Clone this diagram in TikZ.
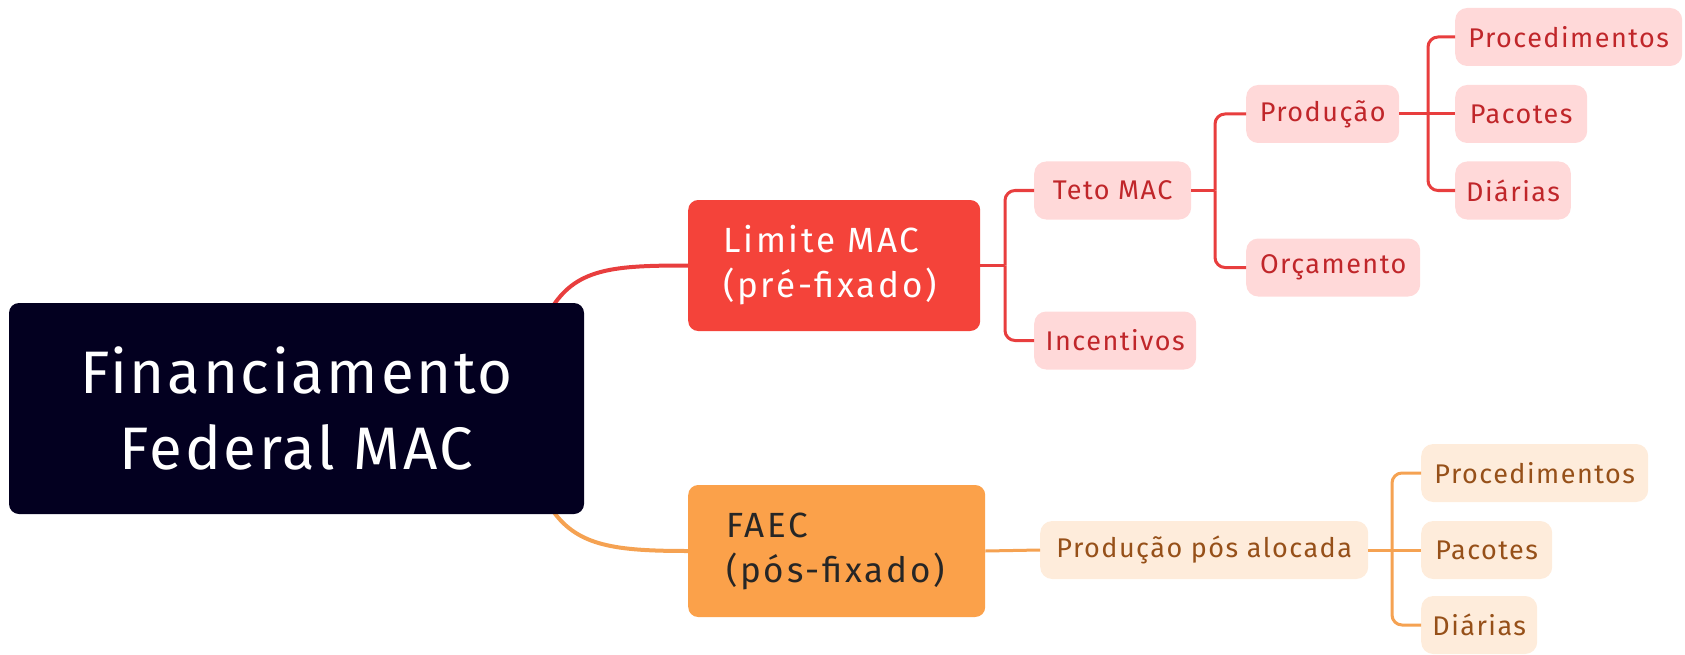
\documentclass[tikz,border=0pt]{standalone}
\usepackage{fontspec}
\setmainfont{Fira Sans}
\usetikzlibrary{positioning,calc}
\definecolor{RootNavy}{RGB}{3,0,32}
\definecolor{LimRed}{RGB}{244,67,58}
\definecolor{LimLine}{RGB}{232,62,62}
\definecolor{LimPink}{RGB}{255,217,217}
\definecolor{LimText}{RGB}{192,38,42}
\definecolor{FaecOrange}{RGB}{251,161,74}
\definecolor{FaecLine}{RGB}{245,162,82}
\definecolor{FaecCream}{RGB}{254,236,219}
\definecolor{FaecText}{RGB}{150,80,25}

\begin{document}
\begin{tikzpicture}[x=1pt, y=-1pt,
	leaf/.style={rounded corners=12pt, inner xsep=11pt, inner ysep=0pt, minimum width=#1, minimum height=58pt, anchor=west, font=\fontsize{27}{30}\selectfont\addfontfeature{LetterSpace=5.5}},
	redleaf/.style={leaf=#1, fill=LimPink, text=LimText},
	orgleaf/.style={leaf=#1, fill=FaecCream, text=FaecText},
	branch/.style={rounded corners=10pt, anchor=west, align=left, text width=222pt, minimum height=131pt, font=\fontsize{35}{45}\selectfont\addfontfeature{LetterSpace=8}},
	redlink/.style={draw=LimLine, line width=3pt, rounded corners=10pt},
	orglink/.style={draw=FaecLine, line width=3pt, rounded corners=10pt}]
	\useasboundingbox (0,0) rectangle (1685,655);
	\coordinate (rootup) at (553,306);
	\coordinate (rootdn) at (553,511);
	\node[branch, fill=LimRed, text=white, inner xsep=35pt] (lim) at (688,265.5) {Limite MAC\\(pré-fixado)};
	\node[branch, fill=FaecOrange, text=black!85, inner xsep=38pt, text width=221pt, minimum height=132pt] (faec) at (688,551) {FAEC\\(pós-fixado)};
	\draw[LimLine, line width=4pt] (rootup) .. controls (578,268) and (615,265.5) .. (lim.west);
	\draw[FaecLine, line width=4pt] (rootdn) .. controls (578,546) and (615,551) .. (faec.west);
	\node[fill=RootNavy, text=white, rounded corners=10pt, minimum width=575pt, minimum height=211pt, align=center, font=\fontsize{60}{76}\selectfont\addfontfeature{LetterSpace=4.4}] (root) at (296.5,408.5) {Financiamento\\Federal MAC};
	% ramo vermelho
	\node[redleaf=157pt] (teto) at (1034,190.5) {Teto MAC};
	\node[redleaf=162pt] (inc) at (1034,340.5) {Incentivos};
	\node[redleaf=153pt] (prod) at (1246,114) {Produção};
	\node[redleaf=174pt] (orc) at (1246,267.5) {Orçamento};
	\node[redleaf=227pt] (proc) at (1455,37) {Procedimentos};
	\node[redleaf=132pt] (pac) at (1455,114) {Pacotes};
	\node[redleaf=114pt] (dia) at (1455,190.5) {Diárias};
	\coordinate (jlim) at (1005,265.5);
	\coordinate (jteto) at (1215,190.5);
	\coordinate (jprod) at (1428,114);
	\draw[redlink] (lim.east) -- (jlim);
	\draw[redlink] (jlim) |- (teto.west);
	\draw[redlink] (jlim) |- (inc.west);
	\draw[redlink] (teto.east) -- (jteto);
	\draw[redlink] (jteto) |- (prod.west);
	\draw[redlink] (jteto) |- (orc.west);
	\draw[redlink] (prod.east) -- (jprod);
	\draw[redlink] (jprod) |- (proc.west);
	\draw[redlink] (jprod) -- (pac.west);
	\draw[redlink] (jprod) |- (dia.west);
	% ramo laranja
	\node[orgleaf=328pt] (ppa) at (1040,550) {Produção pós alocada};
	\node[orgleaf=227pt] (proc2) at (1421,473) {Procedimentos};
	\node[orgleaf=131pt] (pac2) at (1421,550) {Pacotes};
	\node[orgleaf=116pt] (dia2) at (1421,625) {Diárias};
	\coordinate (jppa) at (1392,550);
	\draw[orglink] (faec.east) -- (ppa.west);
	\draw[orglink] (ppa.east) -- (jppa);
	\draw[orglink] (jppa) |- (proc2.west);
	\draw[orglink] (jppa) -- (pac2.west);
	\draw[orglink] (jppa) |- (dia2.west);
\end{tikzpicture}
\end{document}
